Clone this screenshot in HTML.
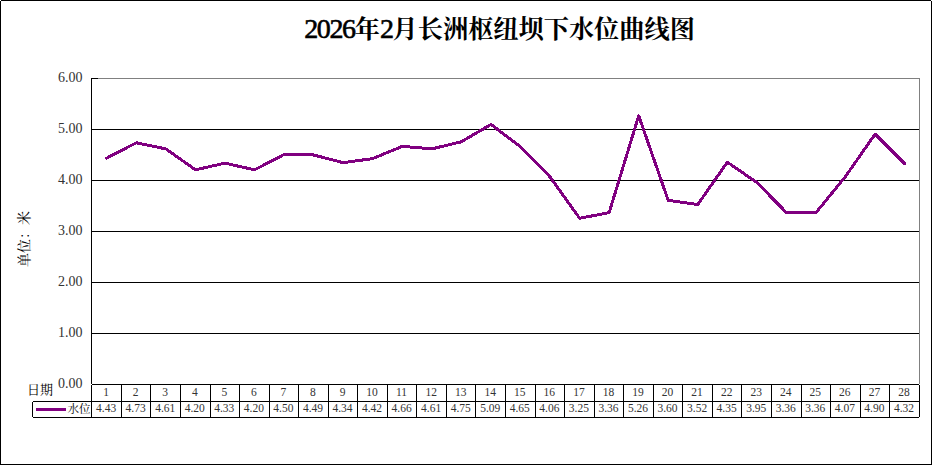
<!DOCTYPE html>
<html><head><meta charset="utf-8"><title>2026年2月长洲枢纽坝下水位曲线图</title>
<style>html,body{margin:0;padding:0;background:#fff;overflow:hidden}svg{display:block}</style>
</head><body>
<svg width="932" height="466" viewBox="0 0 932 466">
<rect width="932" height="466" fill="#fff"/>
<g shape-rendering="crispEdges">
<path d="M0.5 1V464.5H931.5V1M1 0.5H931" fill="none" stroke="#000" stroke-width="1"/>
<line x1="91" y1="333.5" x2="919" y2="333.5" stroke="#000" stroke-width="1"/>
<line x1="91" y1="282.5" x2="919" y2="282.5" stroke="#000" stroke-width="1"/>
<line x1="91" y1="231.5" x2="919" y2="231.5" stroke="#000" stroke-width="1"/>
<line x1="91" y1="180.5" x2="919" y2="180.5" stroke="#000" stroke-width="1"/>
<line x1="91" y1="129.5" x2="919" y2="129.5" stroke="#000" stroke-width="1"/>
<path d="M98 78.5H919.5V384" fill="none" stroke="#808080" stroke-width="1"/>
<line x1="91.5" y1="78" x2="91.5" y2="384" stroke="#000" stroke-width="1"/>
<line x1="91" y1="78.5" x2="98" y2="78.5" stroke="#000" stroke-width="1"/>
<line x1="92" y1="384.5" x2="919" y2="384.5" stroke="#000" stroke-width="1"/>
<line x1="33" y1="401.5" x2="920" y2="401.5" stroke="#000" stroke-width="1"/>
<line x1="33" y1="417.5" x2="919" y2="417.5" stroke="#000" stroke-width="1"/>
<line x1="32.5" y1="402" x2="32.5" y2="417" stroke="#000" stroke-width="1"/>
<line x1="91.5" y1="385" x2="91.5" y2="418" stroke="#000" stroke-width="1"/>
<line x1="121.5" y1="385" x2="121.5" y2="418" stroke="#000" stroke-width="1"/>
<line x1="150.5" y1="385" x2="150.5" y2="418" stroke="#000" stroke-width="1"/>
<line x1="180.5" y1="385" x2="180.5" y2="418" stroke="#000" stroke-width="1"/>
<line x1="210.5" y1="385" x2="210.5" y2="418" stroke="#000" stroke-width="1"/>
<line x1="239.5" y1="385" x2="239.5" y2="418" stroke="#000" stroke-width="1"/>
<line x1="269.5" y1="385" x2="269.5" y2="418" stroke="#000" stroke-width="1"/>
<line x1="298.5" y1="385" x2="298.5" y2="418" stroke="#000" stroke-width="1"/>
<line x1="328.5" y1="385" x2="328.5" y2="418" stroke="#000" stroke-width="1"/>
<line x1="357.5" y1="385" x2="357.5" y2="418" stroke="#000" stroke-width="1"/>
<line x1="387.5" y1="385" x2="387.5" y2="418" stroke="#000" stroke-width="1"/>
<line x1="416.5" y1="385" x2="416.5" y2="418" stroke="#000" stroke-width="1"/>
<line x1="446.5" y1="385" x2="446.5" y2="418" stroke="#000" stroke-width="1"/>
<line x1="475.5" y1="385" x2="475.5" y2="418" stroke="#000" stroke-width="1"/>
<line x1="505.5" y1="385" x2="505.5" y2="418" stroke="#000" stroke-width="1"/>
<line x1="535.5" y1="385" x2="535.5" y2="418" stroke="#000" stroke-width="1"/>
<line x1="564.5" y1="385" x2="564.5" y2="418" stroke="#000" stroke-width="1"/>
<line x1="594.5" y1="385" x2="594.5" y2="418" stroke="#000" stroke-width="1"/>
<line x1="623.5" y1="385" x2="623.5" y2="418" stroke="#000" stroke-width="1"/>
<line x1="653.5" y1="385" x2="653.5" y2="418" stroke="#000" stroke-width="1"/>
<line x1="682.5" y1="385" x2="682.5" y2="418" stroke="#000" stroke-width="1"/>
<line x1="712.5" y1="385" x2="712.5" y2="418" stroke="#000" stroke-width="1"/>
<line x1="741.5" y1="385" x2="741.5" y2="418" stroke="#000" stroke-width="1"/>
<line x1="771.5" y1="385" x2="771.5" y2="418" stroke="#000" stroke-width="1"/>
<line x1="801.5" y1="385" x2="801.5" y2="418" stroke="#000" stroke-width="1"/>
<line x1="830.5" y1="385" x2="830.5" y2="418" stroke="#000" stroke-width="1"/>
<line x1="860.5" y1="385" x2="860.5" y2="418" stroke="#000" stroke-width="1"/>
<line x1="889.5" y1="385" x2="889.5" y2="418" stroke="#000" stroke-width="1"/>
<line x1="919.5" y1="385" x2="919.5" y2="417" stroke="#000" stroke-width="1"/>
</g>
<polyline points="106.80,158.07 136.34,142.77 165.89,148.89 195.44,169.80 225.00,163.17 254.55,169.80 284.10,154.50 313.64,155.01 343.19,162.66 372.75,158.58 402.30,146.34 431.84,148.89 461.39,141.75 490.94,124.41 520.50,146.85 550.05,176.94 579.60,218.25 609.14,212.64 638.70,115.74 668.25,200.40 697.79,204.48 727.35,162.15 756.89,182.55 786.45,212.64 816.00,212.64 845.54,176.43 875.10,134.10 904.64,163.68" fill="none" stroke="#800080" stroke-width="3" stroke-linejoin="round" stroke-linecap="round" shape-rendering="crispEdges"/>
<line x1="36" y1="409.5" x2="66" y2="409.5" stroke="#800080" stroke-width="3"/>
<text x="499.5" y="38" text-anchor="middle" font-size="25.2" font-weight="bold" font-family="'Liberation Serif', 'Noto Serif CJK SC', serif" fill="#000"><tspan font-size="28" font-weight="normal" stroke="#000" stroke-width="0.6" letter-spacing="-1.35">2026</tspan>年<tspan font-size="28" font-weight="normal" stroke="#000" stroke-width="0.6" letter-spacing="-1.35">2</tspan>月长洲枢纽坝下水位曲线图</text>
<text x="82.5" y="388.3" text-anchor="end" font-size="14" font-family="'Liberation Serif', 'Noto Serif CJK SC', serif" fill="#333">0.00</text>
<text x="82.5" y="337.3" text-anchor="end" font-size="14" font-family="'Liberation Serif', 'Noto Serif CJK SC', serif" fill="#333">1.00</text>
<text x="82.5" y="286.3" text-anchor="end" font-size="14" font-family="'Liberation Serif', 'Noto Serif CJK SC', serif" fill="#333">2.00</text>
<text x="82.5" y="235.3" text-anchor="end" font-size="14" font-family="'Liberation Serif', 'Noto Serif CJK SC', serif" fill="#333">3.00</text>
<text x="82.5" y="184.3" text-anchor="end" font-size="14" font-family="'Liberation Serif', 'Noto Serif CJK SC', serif" fill="#333">4.00</text>
<text x="82.5" y="133.3" text-anchor="end" font-size="14" font-family="'Liberation Serif', 'Noto Serif CJK SC', serif" fill="#333">5.00</text>
<text x="82.5" y="82.3" text-anchor="end" font-size="14" font-family="'Liberation Serif', 'Noto Serif CJK SC', serif" fill="#333">6.00</text>
<text transform="translate(28.8,239) rotate(-90)" text-anchor="middle" font-size="14" font-family="'Liberation Serif', 'Noto Serif CJK SC', serif" fill="#000">单位：米</text>
<text x="27" y="394.3" font-size="13" font-family="'Liberation Serif', 'Noto Serif CJK SC', serif" fill="#000">日期</text>
<text x="67.5" y="412.7" font-size="11.5" font-family="'Liberation Serif', 'Noto Serif CJK SC', serif" fill="#000">水位</text>
<text x="106.09" y="396" text-anchor="middle" font-size="11.5" font-family="'Liberation Serif', 'Noto Serif CJK SC', serif" fill="#333">1</text>
<text x="106.09" y="412" text-anchor="middle" font-size="11.5" font-family="'Liberation Serif', 'Noto Serif CJK SC', serif" fill="#333">4.43</text>
<text x="135.64" y="396" text-anchor="middle" font-size="11.5" font-family="'Liberation Serif', 'Noto Serif CJK SC', serif" fill="#333">2</text>
<text x="135.64" y="412" text-anchor="middle" font-size="11.5" font-family="'Liberation Serif', 'Noto Serif CJK SC', serif" fill="#333">4.73</text>
<text x="165.19" y="396" text-anchor="middle" font-size="11.5" font-family="'Liberation Serif', 'Noto Serif CJK SC', serif" fill="#333">3</text>
<text x="165.19" y="412" text-anchor="middle" font-size="11.5" font-family="'Liberation Serif', 'Noto Serif CJK SC', serif" fill="#333">4.61</text>
<text x="194.75" y="396" text-anchor="middle" font-size="11.5" font-family="'Liberation Serif', 'Noto Serif CJK SC', serif" fill="#333">4</text>
<text x="194.75" y="412" text-anchor="middle" font-size="11.5" font-family="'Liberation Serif', 'Noto Serif CJK SC', serif" fill="#333">4.20</text>
<text x="224.29" y="396" text-anchor="middle" font-size="11.5" font-family="'Liberation Serif', 'Noto Serif CJK SC', serif" fill="#333">5</text>
<text x="224.29" y="412" text-anchor="middle" font-size="11.5" font-family="'Liberation Serif', 'Noto Serif CJK SC', serif" fill="#333">4.33</text>
<text x="253.84" y="396" text-anchor="middle" font-size="11.5" font-family="'Liberation Serif', 'Noto Serif CJK SC', serif" fill="#333">6</text>
<text x="253.84" y="412" text-anchor="middle" font-size="11.5" font-family="'Liberation Serif', 'Noto Serif CJK SC', serif" fill="#333">4.20</text>
<text x="283.39" y="396" text-anchor="middle" font-size="11.5" font-family="'Liberation Serif', 'Noto Serif CJK SC', serif" fill="#333">7</text>
<text x="283.39" y="412" text-anchor="middle" font-size="11.5" font-family="'Liberation Serif', 'Noto Serif CJK SC', serif" fill="#333">4.50</text>
<text x="312.94" y="396" text-anchor="middle" font-size="11.5" font-family="'Liberation Serif', 'Noto Serif CJK SC', serif" fill="#333">8</text>
<text x="312.94" y="412" text-anchor="middle" font-size="11.5" font-family="'Liberation Serif', 'Noto Serif CJK SC', serif" fill="#333">4.49</text>
<text x="342.50" y="396" text-anchor="middle" font-size="11.5" font-family="'Liberation Serif', 'Noto Serif CJK SC', serif" fill="#333">9</text>
<text x="342.50" y="412" text-anchor="middle" font-size="11.5" font-family="'Liberation Serif', 'Noto Serif CJK SC', serif" fill="#333">4.34</text>
<text x="372.05" y="396" text-anchor="middle" font-size="11.5" font-family="'Liberation Serif', 'Noto Serif CJK SC', serif" fill="#333">10</text>
<text x="372.05" y="412" text-anchor="middle" font-size="11.5" font-family="'Liberation Serif', 'Noto Serif CJK SC', serif" fill="#333">4.42</text>
<text x="401.60" y="396" text-anchor="middle" font-size="11.5" font-family="'Liberation Serif', 'Noto Serif CJK SC', serif" fill="#333">11</text>
<text x="401.60" y="412" text-anchor="middle" font-size="11.5" font-family="'Liberation Serif', 'Noto Serif CJK SC', serif" fill="#333">4.66</text>
<text x="431.14" y="396" text-anchor="middle" font-size="11.5" font-family="'Liberation Serif', 'Noto Serif CJK SC', serif" fill="#333">12</text>
<text x="431.14" y="412" text-anchor="middle" font-size="11.5" font-family="'Liberation Serif', 'Noto Serif CJK SC', serif" fill="#333">4.61</text>
<text x="460.69" y="396" text-anchor="middle" font-size="11.5" font-family="'Liberation Serif', 'Noto Serif CJK SC', serif" fill="#333">13</text>
<text x="460.69" y="412" text-anchor="middle" font-size="11.5" font-family="'Liberation Serif', 'Noto Serif CJK SC', serif" fill="#333">4.75</text>
<text x="490.25" y="396" text-anchor="middle" font-size="11.5" font-family="'Liberation Serif', 'Noto Serif CJK SC', serif" fill="#333">14</text>
<text x="490.25" y="412" text-anchor="middle" font-size="11.5" font-family="'Liberation Serif', 'Noto Serif CJK SC', serif" fill="#333">5.09</text>
<text x="519.80" y="396" text-anchor="middle" font-size="11.5" font-family="'Liberation Serif', 'Noto Serif CJK SC', serif" fill="#333">15</text>
<text x="519.80" y="412" text-anchor="middle" font-size="11.5" font-family="'Liberation Serif', 'Noto Serif CJK SC', serif" fill="#333">4.65</text>
<text x="549.35" y="396" text-anchor="middle" font-size="11.5" font-family="'Liberation Serif', 'Noto Serif CJK SC', serif" fill="#333">16</text>
<text x="549.35" y="412" text-anchor="middle" font-size="11.5" font-family="'Liberation Serif', 'Noto Serif CJK SC', serif" fill="#333">4.06</text>
<text x="578.89" y="396" text-anchor="middle" font-size="11.5" font-family="'Liberation Serif', 'Noto Serif CJK SC', serif" fill="#333">17</text>
<text x="578.89" y="412" text-anchor="middle" font-size="11.5" font-family="'Liberation Serif', 'Noto Serif CJK SC', serif" fill="#333">3.25</text>
<text x="608.44" y="396" text-anchor="middle" font-size="11.5" font-family="'Liberation Serif', 'Noto Serif CJK SC', serif" fill="#333">18</text>
<text x="608.44" y="412" text-anchor="middle" font-size="11.5" font-family="'Liberation Serif', 'Noto Serif CJK SC', serif" fill="#333">3.36</text>
<text x="638.00" y="396" text-anchor="middle" font-size="11.5" font-family="'Liberation Serif', 'Noto Serif CJK SC', serif" fill="#333">19</text>
<text x="638.00" y="412" text-anchor="middle" font-size="11.5" font-family="'Liberation Serif', 'Noto Serif CJK SC', serif" fill="#333">5.26</text>
<text x="667.55" y="396" text-anchor="middle" font-size="11.5" font-family="'Liberation Serif', 'Noto Serif CJK SC', serif" fill="#333">20</text>
<text x="667.55" y="412" text-anchor="middle" font-size="11.5" font-family="'Liberation Serif', 'Noto Serif CJK SC', serif" fill="#333">3.60</text>
<text x="697.10" y="396" text-anchor="middle" font-size="11.5" font-family="'Liberation Serif', 'Noto Serif CJK SC', serif" fill="#333">21</text>
<text x="697.10" y="412" text-anchor="middle" font-size="11.5" font-family="'Liberation Serif', 'Noto Serif CJK SC', serif" fill="#333">3.52</text>
<text x="726.64" y="396" text-anchor="middle" font-size="11.5" font-family="'Liberation Serif', 'Noto Serif CJK SC', serif" fill="#333">22</text>
<text x="726.64" y="412" text-anchor="middle" font-size="11.5" font-family="'Liberation Serif', 'Noto Serif CJK SC', serif" fill="#333">4.35</text>
<text x="756.19" y="396" text-anchor="middle" font-size="11.5" font-family="'Liberation Serif', 'Noto Serif CJK SC', serif" fill="#333">23</text>
<text x="756.19" y="412" text-anchor="middle" font-size="11.5" font-family="'Liberation Serif', 'Noto Serif CJK SC', serif" fill="#333">3.95</text>
<text x="785.75" y="396" text-anchor="middle" font-size="11.5" font-family="'Liberation Serif', 'Noto Serif CJK SC', serif" fill="#333">24</text>
<text x="785.75" y="412" text-anchor="middle" font-size="11.5" font-family="'Liberation Serif', 'Noto Serif CJK SC', serif" fill="#333">3.36</text>
<text x="815.30" y="396" text-anchor="middle" font-size="11.5" font-family="'Liberation Serif', 'Noto Serif CJK SC', serif" fill="#333">25</text>
<text x="815.30" y="412" text-anchor="middle" font-size="11.5" font-family="'Liberation Serif', 'Noto Serif CJK SC', serif" fill="#333">3.36</text>
<text x="844.85" y="396" text-anchor="middle" font-size="11.5" font-family="'Liberation Serif', 'Noto Serif CJK SC', serif" fill="#333">26</text>
<text x="844.85" y="412" text-anchor="middle" font-size="11.5" font-family="'Liberation Serif', 'Noto Serif CJK SC', serif" fill="#333">4.07</text>
<text x="874.39" y="396" text-anchor="middle" font-size="11.5" font-family="'Liberation Serif', 'Noto Serif CJK SC', serif" fill="#333">27</text>
<text x="874.39" y="412" text-anchor="middle" font-size="11.5" font-family="'Liberation Serif', 'Noto Serif CJK SC', serif" fill="#333">4.90</text>
<text x="903.94" y="396" text-anchor="middle" font-size="11.5" font-family="'Liberation Serif', 'Noto Serif CJK SC', serif" fill="#333">28</text>
<text x="903.94" y="412" text-anchor="middle" font-size="11.5" font-family="'Liberation Serif', 'Noto Serif CJK SC', serif" fill="#333">4.32</text>
</svg>
</body></html>
